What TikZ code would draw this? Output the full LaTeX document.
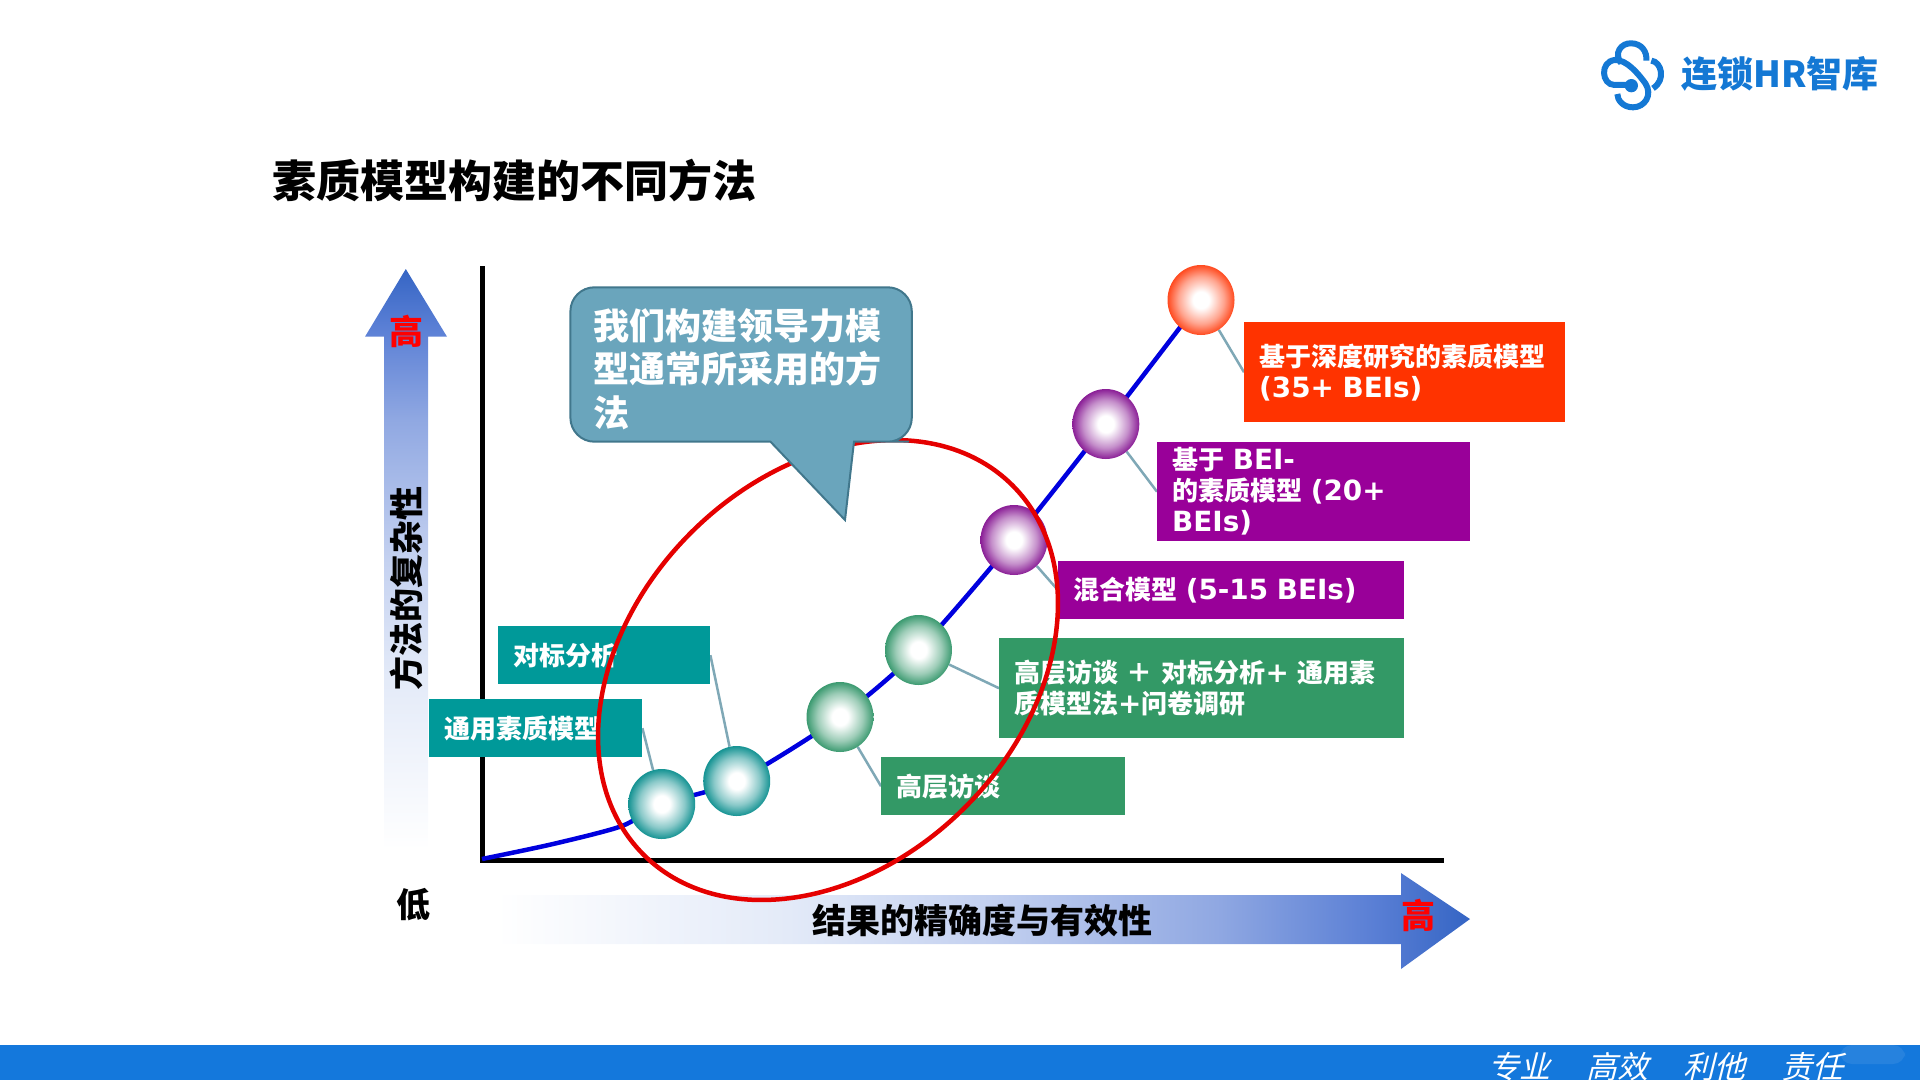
\documentclass[tikz,border=0pt]{standalone}
\usepackage{fontspec}
\usetikzlibrary{shapes.geometric,backgrounds}
\newfontfamily\cjkfont{Noto Sans CJK SC}
\newfontfamily\slantfont[FakeSlant=0.25]{Noto Sans CJK SC}
\newfontfamily\latinfont[Scale=1.07]{DejaVu Sans}
\definecolor{logoblue}{HTML}{1478D4}
\definecolor{barblue}{HTML}{1478DC}
\definecolor{arrowa}{HTML}{3565C4}
\definecolor{arrowb}{HTML}{5A7FD5}
\definecolor{arrowc}{HTML}{90A8E2}
\definecolor{arrowd}{HTML}{C4D1F0}
\definecolor{arrowe}{HTML}{E3EAF8}
\definecolor{linkgray}{HTML}{7FA8B6}
\definecolor{tealbox}{HTML}{009999}
\definecolor{greenbox}{HTML}{339966}
\definecolor{purplebox}{HTML}{990099}
\definecolor{orangebox}{HTML}{FF3300}
\definecolor{calloutfill}{HTML}{6AA5BC}
\definecolor{calloutedge}{HTML}{41778C}
\definecolor{ballteal}{HTML}{159393}
\definecolor{ballgreen}{HTML}{3B9A70}
\definecolor{ballpurple}{HTML}{8A1E96}
\definecolor{ballorange}{HTML}{FF4A1F}
\colorlet{tealmid}{ballteal!50!white}
\colorlet{greenmid}{ballgreen!50!white}
\colorlet{purplemid}{ballpurple!50!white}
\colorlet{orangemid}{ballorange!50!white}
\pgfdeclareradialshading{shadeteal}{\pgfpointorigin}{color(0bp)=(white); color(6bp)=(white); color(17bp)=(tealmid); color(25bp)=(ballteal); color(100bp)=(ballteal)}
\pgfdeclareradialshading{shadegreen}{\pgfpointorigin}{color(0bp)=(white); color(6bp)=(white); color(17bp)=(greenmid); color(25bp)=(ballgreen); color(100bp)=(ballgreen)}
\pgfdeclareradialshading{shadepurple}{\pgfpointorigin}{color(0bp)=(white); color(6bp)=(white); color(17bp)=(purplemid); color(25bp)=(ballpurple); color(100bp)=(ballpurple)}
\pgfdeclareradialshading{shadeorange}{\pgfpointorigin}{color(0bp)=(white); color(6bp)=(white); color(17bp)=(orangemid); color(25bp)=(ballorange); color(100bp)=(ballorange)}
\pgfdeclareverticalshading{fadeup}{100bp}{color(0bp)=(white); color(25bp)=(white); color(40bp)=(arrowe); color(50bp)=(arrowd); color(62bp)=(arrowc); color(70bp)=(arrowb); color(75bp)=(arrowa); color(100bp)=(arrowa)}
\pgfdeclarehorizontalshading{faderight}{100bp}{color(0bp)=(white); color(25bp)=(white); color(40bp)=(arrowe); color(50bp)=(arrowd); color(62bp)=(arrowc); color(70bp)=(arrowb); color(75bp)=(arrowa); color(100bp)=(arrowa)}
\tikzset{
	ball/.style={ellipse, shade, shading=#1, minimum width=67pt, minimum height=70pt, inner sep=0pt},
	labelbox/.style={rectangle, anchor=north west, fill=#1, text=white, inner xsep=15pt, inner ysep=0pt, align=left, font=\fontsize{26}{31}\selectfont\cjkfont\bfseries},
	heading/.style={inner sep=0pt, font=\fontsize{34}{40}\selectfont\cjkfont\bfseries},
	link/.style={color=linkgray, line width=2.5pt},
	logostroke/.style={color=logoblue, line width=6pt}
}
\newcommand{\lat}[1]{{\latinfont\bfseries #1}}

\begin{document}
\begin{tikzpicture}[x=1pt, y=-1pt]
			%%%%% START %%%%%
			\useasboundingbox (0, 0) rectangle (1920, 1080);
			
			% footer bar
			\fill[barblue] (0, 1045) rectangle (1920, 1080);
			\fill[white, opacity=0.08, rounded corners=12pt] (1840, 1045) rectangle (1905, 1064);
			\node[text=white, inner sep=0pt, font=\fontsize{31}{36}\selectfont\slantfont] (motto) at (1666, 1067) {专业\hspace{36pt}高效\hspace{36pt}利他\hspace{36pt}责任};
			
			% logo
			\begin{scope}[shift={(1558, 20)}, x=0.3333pt, y=-0.3333pt]
				\draw[logostroke] (218, 195) -- (170, 195) .. controls (130, 195) and (125, 125) .. (170, 120) .. controls (205, 118) and (240, 160) .. (262, 190) .. controls (285, 225) and (260, 262) .. (225, 262) .. controls (195, 262) and (178, 240) .. (178, 222);
				\draw[logostroke] (190, 130) .. controls (165, 100) and (190, 68) .. (220, 70) .. controls (250, 70) and (268, 95) .. (265, 122);
				\draw[logostroke] (280, 122) .. controls (310, 125) and (325, 180) .. (285, 205);
				\fill[logoblue] (220, 197) circle (20);
			\end{scope}
			\node[anchor=west, inner sep=0pt, text=logoblue, font=\fontsize{36}{40}\selectfont\cjkfont\bfseries] (logotext) at (1681, 74) {连锁HR智库};
			
			\node[anchor=west, inner sep=0pt, font=\fontsize{44}{50}\selectfont\cjkfont\bfseries] (title) at (272, 181) {素质模型构建的不同方法};
			
			% the two big arrows
			\shade[shading=fadeup] (405.8, 269) -- (447, 336.7) -- (428, 336.7) -- (428, 850) -- (384, 850) -- (384, 336.7) -- (365, 336.7) -- cycle;
			\shade[shading=faderight] (1470, 919) -- (1401, 969) -- (1401, 944) -- (496, 944) -- (496, 895) -- (1401, 895) -- (1401, 873) -- cycle;
			\node[heading, text=red] (highY) at (406, 331) {高};
			\node[heading, rotate=90] (labelY) at (406, 588) {方法的复杂性};
			\node[heading] (lowY) at (413, 905) {低};
			\node[heading] (labelX) at (982, 921) {结果的精确度与有效性};
			\node[heading, text=red] (highX) at (1418, 915) {高};
			
			% balls on the curve
			\coordinate (curvestart) at (482, 859);
			\coordinate (curvelow) at (553, 844);
			\coordinate (curvebend) at (622, 826);
			\node[ball=shadeteal] (ballA) at (661.7, 804) {};
			\node[ball=shadeteal] (ballB) at (736.7, 781) {};
			\node[ball=shadegreen] (ballC) at (840, 717) {};
			\node[ball=shadegreen] (ballD) at (918.5, 650) {};
			\node[ball=shadepurple] (ballE) at (1014, 540) {};
			\node[ball=shadepurple] (ballF) at (1105.8, 424) {};
			\node[ball=shadeorange] (ballG) at (1201, 300) {};
			
			% labels
			\node[labelbox=tealbox, text width=183pt, minimum height=58pt] (boxA) at (429, 699) {通用素质模型};
			\node[labelbox=tealbox, text width=182pt, minimum height=58pt] (boxB) at (498, 626) {对标分析};
			\node[labelbox=greenbox, text width=214pt, minimum height=58pt] (boxC) at (881, 757) {高层访谈};
			\node[labelbox=greenbox, text width=375pt, minimum height=100pt] (boxD) at (999, 638) {高层访谈 ＋ 对标分析\lat{+} 通用素\\质模型法\lat{+}问卷调研};
			\node[labelbox=purplebox, text width=316pt, minimum height=58pt] (boxE) at (1058, 561) {混合模型 \lat{(5-15 BEIs)}};
			\node[labelbox=purplebox, text width=283pt, minimum height=99pt] (boxF) at (1157, 442) {基于 \lat{BEI-}\\的素质模型 \lat{(20+}\\\lat{BEIs)}};
			\node[labelbox=orangebox, text width=291pt, minimum height=100pt] (boxG) at (1244, 322) {基于深度研究的素质模型\\\lat{(35+ BEIs)}};
			
			\begin{scope}[on background layer]
				\draw[line width=5pt] (482.7, 266) -- (482.7, 860.4) -- (1444, 860.4);
				\draw[color=blue!87!black, line width=4.5pt] plot[smooth, tension=0.45] coordinates {(curvestart) (curvelow) (curvebend) (ballA) (ballB) (ballC) (ballD) (ballE) (ballF) (ballG)};
				\draw[link] (ballA) -- (boxA.east);
				\draw[link] (ballB) -- (boxB.east);
				\draw[link] (ballC) -- (boxC.west);
				\draw[link] (ballD) -- (boxD.west);
				\draw[link] (ballE) -- (boxE.west);
				\draw[link] (ballF) -- (boxF.west);
				\draw[link] (ballG) -- (boxG.west);
			\end{scope}
			
			% red ring over everything but the callout
			\node[draw, color=red!90!black, line width=4.5pt, ellipse, minimum width=522pt, minimum height=388pt, inner sep=0pt, rotate=45] (ring) at (828, 670) {};
			
			\draw[fill=calloutfill, draw=calloutedge, line width=2pt] (770.5, 441.7) [rounded corners=24pt] -- (570.4, 441.7) -- (570.4, 287.3) -- (911.8, 287.3) -- (911.8, 441.7) -- (885, 441.7) [sharp corners] -- (854, 441.7) -- (845, 520) -- cycle;
			\node[anchor=north west, inner sep=0pt, text=white, align=left, font=\fontsize{36}{43.5}\selectfont\cjkfont\bfseries] (calloutlabel) at (593.7, 308) {我们构建领导力模\\型通常所采用的方\\法};
			
			%%%%% END %%%%%
\end{tikzpicture}
\end{document}
